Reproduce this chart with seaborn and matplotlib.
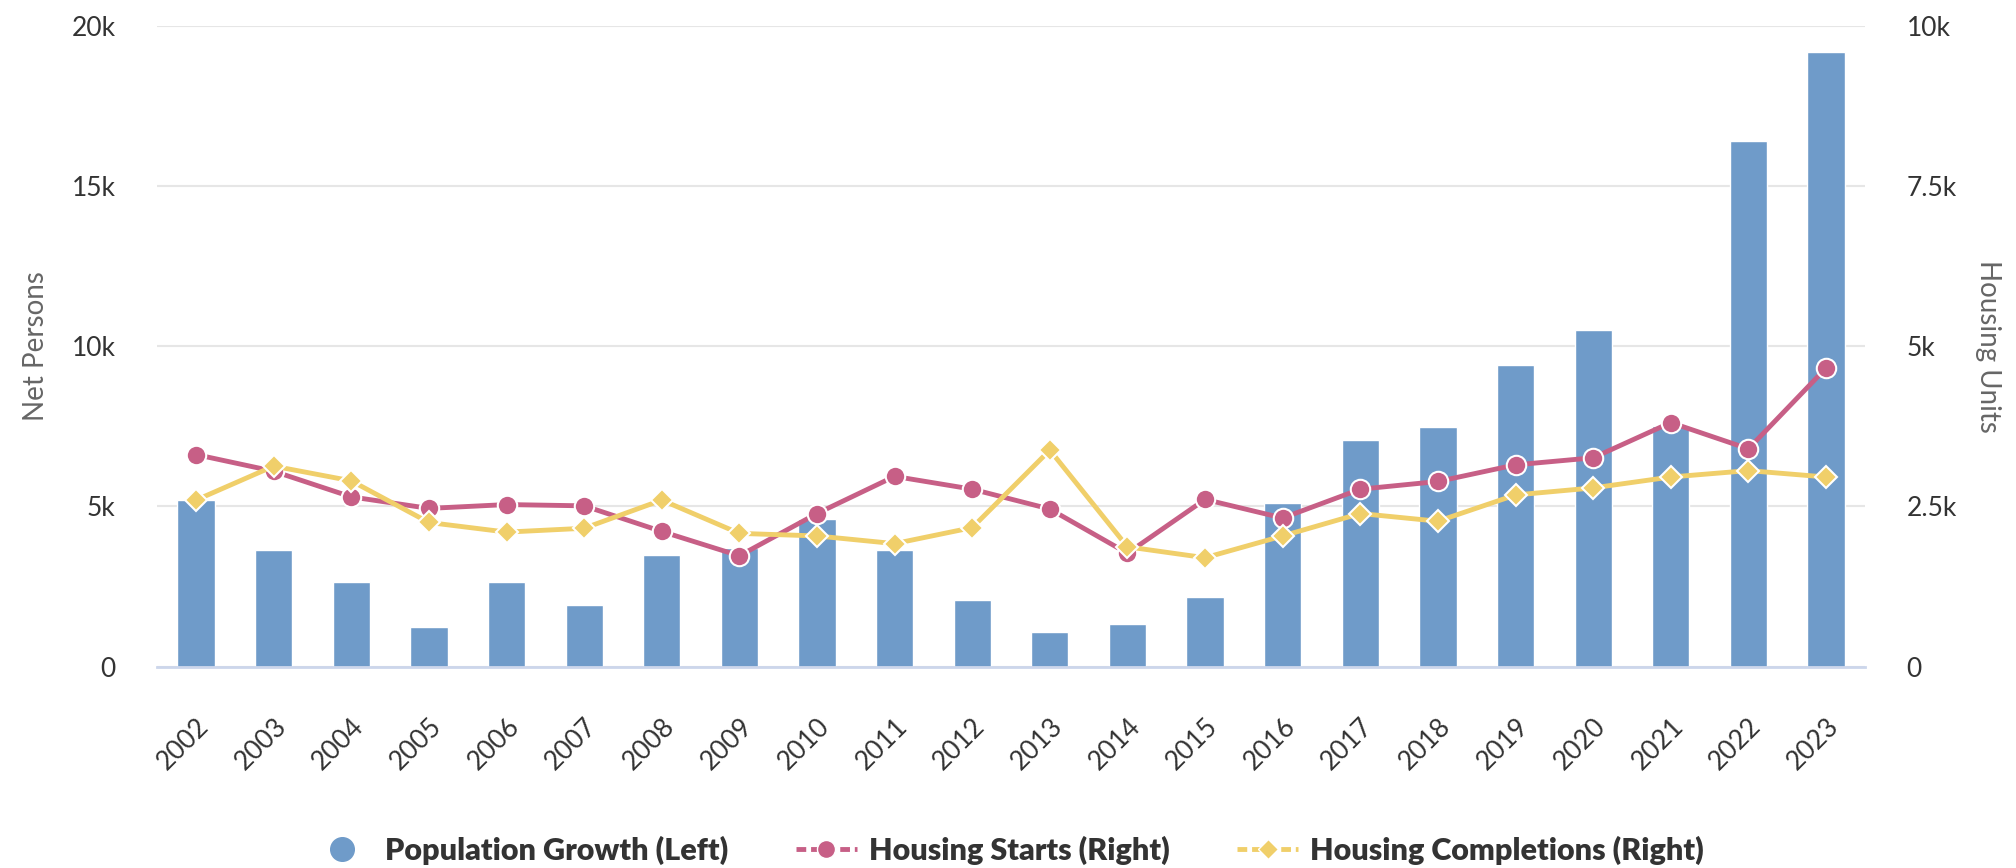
import seaborn as sns
import matplotlib.pyplot as plt
import pandas as pd
from matplotlib.lines import Line2D
from matplotlib.ticker import FuncFormatter

sns.set_theme(style="white")
plt.rcParams['font.family'] = ['Lato', 'DejaVu Sans']

years = [str(y) for y in range(2002, 2024)]
population = [5200, 3650, 2650, 1250, 2650, 1920, 3480, 3700, 4600, 3640, 2080,
              1080, 1340, 2180, 5100, 7070, 7480, 9430, 10500, 7500, 16400, 19200]
starts = [3310, 3050, 2650, 2470, 2530, 2510, 2110, 1730, 2390, 2970, 2770,
          2460, 1770, 2610, 2320, 2770, 2890, 3150, 3260, 3810, 3400, 4660]
completions = [2600, 3130, 2900, 2250, 2100, 2160, 2600, 2080, 2040, 1920, 2170,
               3380, 1870, 1700, 2040, 2390, 2270, 2680, 2790, 2960, 3060, 2960]

df = pd.DataFrame({"Year": years, "Population": population,
                   "Starts": starts, "Completions": completions})

blue = "#6f9bc9"
pink = "#c75f86"
yellow = "#f0cf6a"

fmt = FuncFormatter(lambda v, p: "0" if v == 0 else f"{v/1000:g}k")

fig = plt.figure(figsize=(20.16, 8.68), dpi=100)
ax = fig.add_axes([0.078, 0.232, 0.847, 0.738])

sns.barplot(data=df, x="Year", y="Population", color=blue, width=0.48,
            saturation=1, ax=ax, zorder=2)
ax.set_ylim(0, 20000)
ax.set_yticks([0, 5000, 10000, 15000, 20000])
ax.yaxis.set_major_formatter(fmt)
ax.grid(axis="y", color="#e6e6e6", linewidth=1.5, zorder=0)
ax.set_axisbelow(True)
ax.set_xlabel("")
ax.set_ylabel("Net Persons", fontsize=20, color="#666666", labelpad=16)
for s in ["top", "right", "left"]:
    ax.spines[s].set_visible(False)
ax.spines["bottom"].set_color("#ccd6eb")
ax.spines["bottom"].set_linewidth(2)
ax.tick_params(axis="both", length=0, labelsize=19, labelcolor="#333333")
ax.tick_params(axis="y", pad=30)
ax.tick_params(axis="x", pad=34)
plt.setp(ax.get_xticklabels(), rotation=45, ha="right", rotation_mode="anchor")

ax2 = ax.twinx()
sns.pointplot(data=df, x="Year", y="Starts", color=pink, markers="o", ax=ax2,
              linewidth=3.5, markersize=14, markeredgecolor="white", markeredgewidth=1.5)
sns.pointplot(data=df, x="Year", y="Completions", color=yellow, markers="D", ax=ax2,
              linewidth=3.5, markersize=11, markeredgecolor="white", markeredgewidth=1.5)
ax2.set_ylim(0, 10000)
ax2.set_yticks([0, 2500, 5000, 7500, 10000])
ax2.yaxis.set_major_formatter(fmt)
ax2.set_ylabel("Housing Units", fontsize=20, color="#666666", rotation=270, labelpad=32)
ax2.set_xlabel("")
for s in ["top", "right", "left", "bottom"]:
    ax2.spines[s].set_visible(False)
ax2.tick_params(axis="y", length=0, labelsize=19, labelcolor="#333333", pad=30)
ax.set_xlim(-0.5, len(years) - 0.5)

handles = [
    Line2D([], [], linestyle="none", marker="o", markersize=17, color=blue),
    Line2D([], [], color=pink, linewidth=3.5, linestyle=(0, (2, 1)), marker="o",
           markersize=13, markeredgecolor="white"),
    Line2D([], [], color=yellow, linewidth=3.5, linestyle=(0, (2, 1)), marker="D",
           markersize=10, markeredgecolor="white"),
]
labels = ["Population Growth (Left)", "Housing Starts (Right)", "Housing Completions (Right)"]
fig.legend(handles, labels, loc="center", bbox_to_anchor=(0.5, 0.02), ncol=3,
           frameon=False, prop={"weight": "heavy", "size": 22}, handlelength=2,
           columnspacing=2.2, handletextpad=0.4, labelcolor="#333333")

fig.savefig("out.png", dpi=100)
